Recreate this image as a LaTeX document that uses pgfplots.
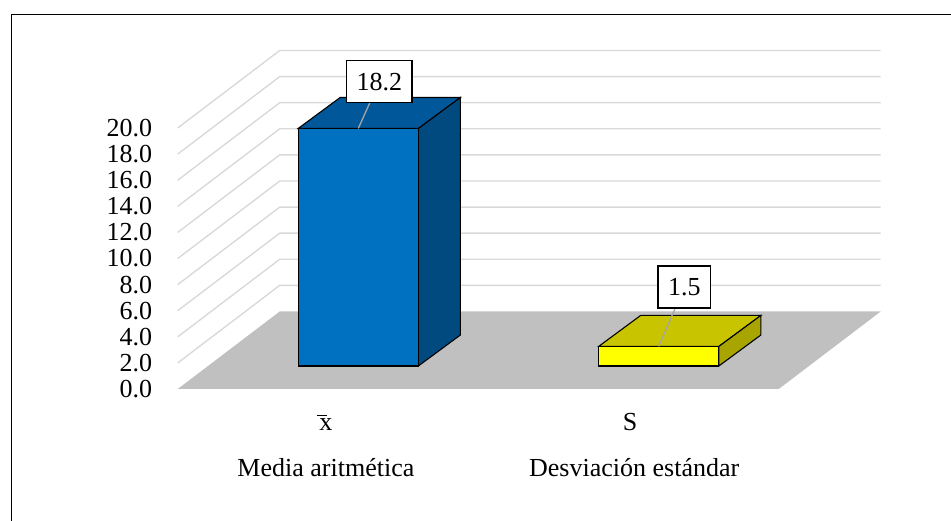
\documentclass[border=0pt]{standalone}
\usepackage{fontspec}
\setmainfont{Liberation Serif}
\usepackage{pgfplots}
\usepackage{pgfplotstable}
\pgfplotsset{compat=1.18}

\definecolor{mediaFront}{HTML}{0070C0}
\definecolor{mediaTop}{HTML}{00589A}
\definecolor{mediaSide}{HTML}{004A80}
\definecolor{sdFront}{HTML}{FFFF00}
\definecolor{sdTop}{HTML}{C8C400}
\definecolor{sdSide}{HTML}{A8A500}
\definecolor{floorGray}{HTML}{C0C0C0}
\definecolor{gridGray}{HTML}{D9D9D9}
\definecolor{leaderGray}{HTML}{A6A6A6}

% statistic values and the offset (pt) of each value label from its bar top
\pgfplotstableread{
pos value lblx lbly
0   18.2  21   46.8
1   1.5   25.5 59.4
}\stats

% pseudo-3D geometry, in axis units
\def\depthx{0.3394}  % full floor depth, x part
\def\depthy{5.94}    % full floor depth, y part
\def\barfx{0.1008}   % bar front face offset into the depth
\def\barfy{1.764}
\def\barhw{0.2}      % half width of a bar
\def\bardx{0.1398}   % bar depth
\def\bardy{2.375}

% upright x with a macron (sample mean)
\newcommand\xbar{\makebox[0pt][l]{\hspace{-0.1em}\raisebox{0.56em}{\rule{0.4em}{1.3pt}}}x}

\tikzset{
  barface/.style={draw=black, line width=1.1pt, line join=miter},
  leader/.style={draw=leaderGray, line width=1.3pt},
  vlabel/.style={draw=black, fill=white, line width=1.2pt, inner xsep=10pt,
    inner ysep=0pt, minimum height=42pt, font=\fontsize{26}{28}\selectfont},
}

% draws one 3D column from row #1 of the table
\newcommand\drawbar[4]{%
  \pgfplotstablegetelem{#1}{pos}\of\stats \let\bpos\pgfplotsretval
  \pgfplotstablegetelem{#1}{value}\of\stats \let\bval\pgfplotsretval
  \pgfplotstablegetelem{#1}{lblx}\of\stats \let\blx\pgfplotsretval
  \pgfplotstablegetelem{#1}{lbly}\of\stats \let\bly\pgfplotsretval
  \pgfmathsetmacro\xa{\bpos+\barfx-\barhw}
  \pgfmathsetmacro\xb{\bpos+\barfx+\barhw}
  \pgfmathsetmacro\xm{\bpos+\barfx}
  \pgfmathsetmacro\ya{\barfy}
  \pgfmathsetmacro\yb{\barfy+\bval}
  \pgfmathsetmacro\xc{\xa+\bardx}
  \pgfmathsetmacro\xd{\xb+\bardx}
  \pgfmathsetmacro\yc{\ya+\bardy}
  \pgfmathsetmacro\yd{\yb+\bardy}
  \addplot[barface, fill=#3] coordinates {(\xa,\yb) (\xb,\yb) (\xd,\yd) (\xc,\yd)} -- cycle;
  \addplot[barface, fill=#4] coordinates {(\xb,\ya) (\xd,\yc) (\xd,\yd) (\xb,\yb)} -- cycle;
  \addplot[barface, fill=#2] coordinates {(\xa,\ya) (\xb,\ya) (\xb,\yb) (\xa,\yb)} -- cycle;
  \edef\doit{%
    \noexpand\draw[leader] (axis cs:\xm,\yb) -- ++(\blx pt,\bly pt);
    \noexpand\node[vlabel, xshift=\blx pt, yshift=\bly pt] at (axis cs:\xm,\yb)
      {\noexpand\pgfmathprintnumber[fixed, fixed zerofill, precision=1,
        assume math mode=true]{\bval}};
  }\doit
}

\begin{document}
\begin{tikzpicture}
\begin{axis}[
  at={(177.75pt,132pt)}, anchor=south west,
  x=300.5pt, y=13.05pt,
  xmin=-0.5, xmax=1.5, ymin=0, ymax=20,
  clip=false,
  axis lines*=left, axis line style={draw=none},
  major tick length=0pt,
  ytick={0,2,...,20},
  yticklabel style={font=\fontsize{26}{28}\selectfont, anchor=east,
    inner sep=0pt, xshift=-25.5pt,
    /pgf/number format/.cd, fixed, fixed zerofill, precision=1,
    assume math mode=true},
  xtick={-0.007,1.005},
  xticklabels={\xbar, S},
  xticklabel style={font=\fontsize{26}{28}\selectfont, anchor=base,
    inner sep=0pt, yshift=-41.5pt},
  extra x ticks={-0.007,1.019},
  extra x tick labels={Media aritmética, Desviación estándar},
  extra x tick style={xticklabel style={yshift=-46.5pt}},
  no markers,
]
  % side and back wall gridlines
  \pgfplotsinvokeforeach{2,4,...,20}{
    \draw[gridGray, line width=1.4pt]
      (axis cs:-0.5,#1) -- (axis cs:-0.5+\depthx,#1+\depthy)
      -- (axis cs:1.5+\depthx,#1+\depthy);
  }
  % floor
  \fill[floorGray] (axis cs:-0.5,0) -- (axis cs:1.5,0)
    -- (axis cs:1.5+\depthx,\depthy) -- (axis cs:-0.5+\depthx,\depthy) -- cycle;
  \drawbar{0}{mediaFront}{mediaTop}{mediaSide}
  \drawbar{1}{sdFront}{sdTop}{sdSide}
\end{axis}
% chart frame
\draw[line width=1.6pt] (11.5pt,-30pt) |- (990pt,506.5pt);
\pgfresetboundingbox
\useasboundingbox (0,0) rectangle (951pt,521pt);
\end{tikzpicture}
\end{document}
